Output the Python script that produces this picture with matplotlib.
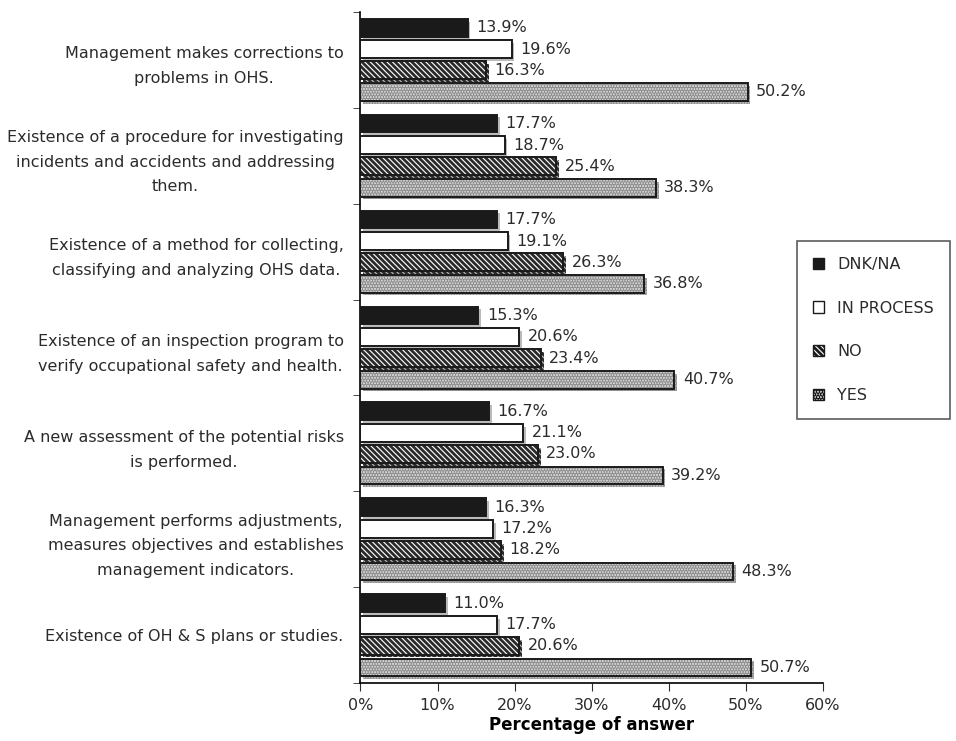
import numpy as np
import matplotlib
matplotlib.use("Agg")
import matplotlib.pyplot as plt
import matplotlib.patheffects as pe
from matplotlib.patches import Patch

plt.rcParams['font.family'] = ['DejaVu Sans']
plt.rcParams['hatch.linewidth'] = 2.0
plt.rcParams['text.color'] = '#2b2b2b'
plt.rcParams['xtick.color'] = '#2b2b2b'
plt.rcParams['ytick.color'] = '#2b2b2b'

categories = [
    "Management makes corrections to\nproblems in OHS.",
    "Existence of a procedure for investigating\nincidents and accidents and addressing\nthem.",
    "Existence of a method for collecting,\nclassifying and analyzing OHS data.",
    "Existence of an inspection program to\nverify occupational safety and health.",
    "A new assessment of the potential risks\nis performed.",
    "Management performs adjustments,\nmeasures objectives and establishes\nmanagement indicators.",
    "Existence of OH & S plans or studies.",
]
series = ["DNK/NA", "IN PROCESS", "NO", "YES"]
dnk = [13.9, 17.7, 17.7, 15.3, 16.7, 16.3, 11.0]
in_process = [19.6, 18.7, 19.1, 20.6, 21.1, 17.2, 17.7]
no = [16.3, 25.4, 26.3, 23.4, 23.0, 18.2, 20.6]
yes = [50.2, 38.3, 36.8, 40.7, 39.2, 48.3, 50.7]
xticks = [0, 10, 20, 30, 40, 50, 60]

values = [dnk, in_process, no, yes]
# fill, hatch, hatch colour for each series
styles = [
    ("#1a1a1a", None, "#1a1a1a"),
    ("white", None, "white"),
    ("white", "\\\\\\\\\\\\", "#2a2a2a"),
    ("#dadada", "......", "#8f8f8f"),
]
offsets = [-0.335, -0.11, 0.11, 0.335]
height = 0.185

fig = plt.figure(figsize=(9.56, 7.41), dpi=100)
ax = fig.add_axes([0.377, 0.078, 0.484, 0.906])

y = np.arange(len(categories))
shadow = [pe.SimplePatchShadow(offset=(2, -2), shadow_rgbFace="0.55", alpha=0.6), pe.Normal()]
for vals, (fc, hatch, hc), off in zip(values, styles, offsets):
    pos = y + off
    ax.barh(pos, vals, height=height, color=fc, edgecolor=hc, hatch=hatch,
            linewidth=0, zorder=2, path_effects=shadow)
    ax.barh(pos, vals, height=height, fill=False, edgecolor="#1a1a1a",
            linewidth=1.4, zorder=3)
    for p, v in zip(pos, vals):
        ax.text(v + 1.1, p, f"{v:.1f}%", va="center", ha="left", fontsize=11.5)

ax.set_xlim(0, 60)
ax.set_ylim(len(categories) - 0.5, -0.5)
ax.set_xticks(xticks)
ax.set_xticklabels([f"{t}%" for t in xticks], fontsize=11.5)
ax.set_yticks(y)
ax.set_yticklabels(categories, fontsize=11.5, multialignment="center", linespacing=1.8)
ax.tick_params(axis="y", length=0, pad=12)
ax.set_yticks(np.arange(-0.5, len(categories)), minor=True)
ax.tick_params(axis="y", which="minor", length=5, direction="out")
ax.tick_params(axis="x", length=6, direction="out", pad=5)
for s in ("top", "right"):
    ax.spines[s].set_visible(False)
ax.spines["left"].set_linewidth(1.2)
ax.spines["bottom"].set_linewidth(1.2)
ax.set_xlabel("Percentage of answer", fontsize=12, fontweight="bold", labelpad=2)

handles = [Patch(facecolor=fc, edgecolor="#1a1a1a", hatch=h) for fc, h, _ in styles]
leg = fig.legend(handles, series, loc="upper left", bbox_to_anchor=(0.834, 0.675),
                 fontsize=11.5, frameon=True, fancybox=False, edgecolor="#333333",
                 labelspacing=1.8, handlelength=0.7, handleheight=0.7,
                 borderpad=1.0, borderaxespad=0)
leg.get_frame().set_linewidth(1.2)

fig.savefig("out.png", dpi=100)
